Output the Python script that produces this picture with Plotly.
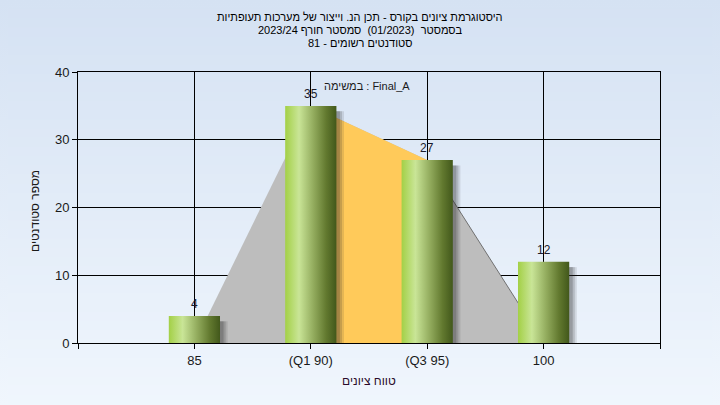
import plotly.graph_objects as go

# ---------------- data ----------------
categories = ["85", "(Q1 90)", "(Q3 95)", "100"]
counts = [4, 35, 27, 12]
y_tick_values = [0, 10, 20, 30, 40]
q1_index = 1
q3_index = 2
title_lines = [
    "היסטוגרמת ציונים בקורס - תכן הנ. וייצור של מערכות תעופתיות",
    "בסמסטר  (01/2023)  סמסטר חורף 2023/24",
    "סטודנטים רשומים - 81",
]
task_label = "במשימה : Final_A"
x_title = "טווח ציונים"
y_title = "מספר סטודנטים"

# ---------------- layout constants ----------------
OFF = 8                      # page body margin of the html page
W, H = 720 - OFF, 405 - OFF
ML, MR, MT, MB = 78 - OFF, 60, 72 - OFF, 62
PW, PH = W - ML - MR, H - MT - MB
FONT = "Liberation Sans, Arial, sans-serif"
bar_w = 0.44
positions = [i + 1 for i in range(len(categories))]
x_min, x_max = 0, len(categories) + 1


def px_x(px):
    return (px - OFF - ML) / PW


def px_y(py):
    return (H - MB - (py - OFF)) / PH


fig = go.Figure()

# background area (distribution outline)
area_x = [positions[0], positions[q1_index], positions[q3_index], positions[-1]]
area_y = [0, counts[q1_index], counts[q3_index], 0]
fig.add_trace(go.Scatter(x=area_x, y=area_y, fill="toself", fillcolor="#bdbdbd",
                         mode="lines", line=dict(width=0, color="rgba(0,0,0,0)"),
                         hoverinfo="skip", showlegend=False))
# interquartile area
iq_x = [positions[q1_index], positions[q1_index], positions[q3_index], positions[q3_index]]
iq_y = [0, counts[q1_index], counts[q3_index], 0]
fig.add_trace(go.Scatter(x=iq_x, y=iq_y, fill="toself", fillcolor="#ffca5a",
                         mode="lines", line=dict(width=0, color="rgba(0,0,0,0)"),
                         hoverinfo="skip", showlegend=False))
# outline on the right edge
fig.add_trace(go.Scatter(x=[positions[q3_index], positions[-1]],
                         y=[counts[q3_index], 0], mode="lines",
                         line=dict(width=1, color="#707070"),
                         hoverinfo="skip", showlegend=False))

# bar shadows
for p, v in zip(positions, counts):
    for d, a in [(0.065, 0.12), (0.048, 0.16), (0.03, 0.22)]:
        x0 = p + bar_w / 2 - 0.01
        x1 = p + bar_w / 2 + d
        top = v - 0.8
        fig.add_trace(go.Scatter(x=[x0, x1, x1, x0], y=[-1, -1, top, top], fill="toself",
                                 fillcolor=f"rgba(40,40,40,{a})", mode="lines",
                                 line=dict(width=0, color="rgba(0,0,0,0)"),
                                 hoverinfo="skip", showlegend=False))

# bars with horizontal gradient
bar_scale = [[0.0, "#a3d046"], [0.27, "#c9e597"], [0.55, "#93ac5e"],
             [0.8, "#62792f"], [1.0, "#42581b"]]
for p, v in zip(positions, counts):
    x0, x1 = p - bar_w / 2, p + bar_w / 2
    fig.add_trace(go.Scatter(x=[x0, x1, x1, x0], y=[0, 0, v, v], fill="toself",
                             fillgradient=dict(type="horizontal", colorscale=bar_scale,
                                               start=x0, stop=x1),
                             mode="lines", line=dict(width=0, color="rgba(0,0,0,0)"),
                             hoverinfo="skip", showlegend=False))

annotations = []
# value labels
for p, v in zip(positions, counts):
    annotations.append(dict(x=p, y=v, xref="x", yref="y", text=str(v), showarrow=False,
                            yanchor="middle", yshift=12,
                            font=dict(family=FONT, size=12, color="#1a1a2a")))
# task label
annotations.append(dict(x=px_x(367), y=px_y(86), xref="paper", yref="paper", text=task_label,
                        showarrow=False, yanchor="middle",
                        font=dict(family=FONT, size=11, color="#1a1a1a")))
# title lines
for i, (line, py) in enumerate(zip(title_lines, [16.5, 29.5, 42.5])):
    annotations.append(dict(x=px_x(360), y=px_y(py), xref="paper", yref="paper", text=line,
                            showarrow=False, yanchor="middle",
                            font=dict(family=FONT, size=11, color="#000000")))
# axis titles
annotations.append(dict(x=px_x(369), y=px_y(381), xref="paper", yref="paper", text=x_title,
                        showarrow=False, yanchor="middle",
                        font=dict(family=FONT, size=12, color="#2a0a2a")))
annotations.append(dict(x=px_x(35), y=px_y(211), xref="paper", yref="paper", text=y_title,
                        showarrow=False, textangle=-90, xanchor="center", yanchor="middle",
                        font=dict(family=FONT, size=12, color="#1a1a1a")))

# background gradient bands
shapes = []
top_c = (213, 226, 243)
bot_c = (240, 246, 253)
n = 45
for i in range(n):
    t = i / (n - 1)
    c = tuple(round(top_c[k] + (bot_c[k] - top_c[k]) * t) for k in range(3))
    y0 = -OFF + (H + 2 * OFF) * i / n
    y1 = -OFF + (H + 2 * OFF) * (i + 1) / n + 1
    shapes.append(dict(type="rect", xref="paper", yref="paper", layer="below",
                       x0=px_x(-2), x1=px_x(W + 2 * OFF + 2),
                       y0=px_y(y1 + OFF), y1=px_y(y0 + OFF),
                       fillcolor="rgb(%d,%d,%d)" % c, line=dict(width=0)))

axis_common = dict(showline=True, linecolor="#000000", linewidth=1, ticks="outside",
                   ticklen=5, tickcolor="#000000", tickwidth=1,
                   tickfont=dict(family=FONT, size=13, color="#1a1a1a"),
                   zeroline=False, automargin=False)

fig.update_layout(
    width=W, height=H,
    margin=dict(l=ML, r=MR, t=MT, b=MB, pad=0, autoexpand=False),
    paper_bgcolor="rgb(%d,%d,%d)" % top_c,
    plot_bgcolor="#b3b3b3",
    showlegend=False,
    xaxis=dict(range=[x_min, x_max], tickmode="array",
               tickvals=[x_min] + positions + [x_max],
               ticktext=[""] + categories + [""],
               showgrid=True, gridcolor="#000000", gridwidth=1, mirror=True,
               fixedrange=True, **axis_common),
    yaxis=dict(range=[0, 40], tickmode="array", tickvals=y_tick_values,
               showgrid=True, gridcolor="#000000", gridwidth=1, mirror=True,
               fixedrange=True, **axis_common),
    yaxis2=dict(range=[0, 40], tickmode="array", tickvals=y_tick_values,
                overlaying="y", side="right", anchor="x", showgrid=False,
                fixedrange=True, **axis_common),
    annotations=annotations,
    shapes=shapes,
)

top_css = "rgb({},{},{})".format(*top_c)
bot_css = "rgb({},{},{})".format(*bot_c)
page_bg = (
    "document.documentElement.style.minHeight='100%';"
    "document.documentElement.style.background="
    "'linear-gradient(to bottom, " + top_css + ", " + bot_css + ") no-repeat';"
    "document.documentElement.style.backgroundSize='100% 405px';"
)

fig.write_html("out.html", post_script=page_bg)
